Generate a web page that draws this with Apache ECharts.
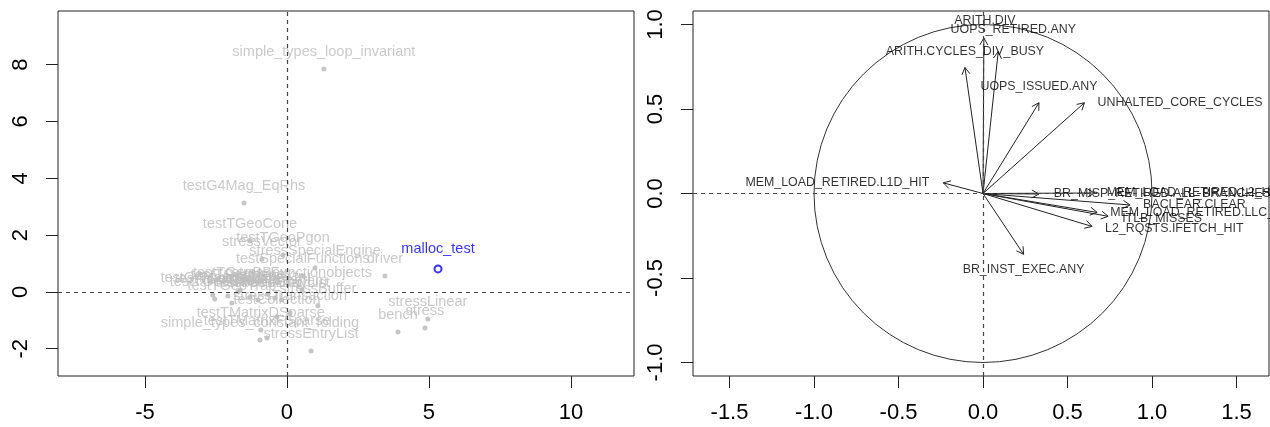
<!DOCTYPE html>
<html>
<head>
<meta charset="utf-8">
<script src="https://cdn.jsdelivr.net/npm/echarts@6/dist/echarts.min.js"></script>
<style>
html,body{margin:0;padding:0;background:#fff;}
#chart{width:1270px;height:427px;}
</style>
</head>
<body>
<div id="chart"></div>
<script>
// ---------- Left panel: individuals ----------
const indNames = [
  'simple_types_loop_invariant','testG4Mag_EqRhs','driver','stressLinear','stress','bench',
  'stressEntryList','testTGeoCone','testTGeoPgon','stressVector','testSpecialFunctions',
  'stressSpecialEngine','testG4Navigator','testTGeoBBox','stressFunctionobjects','testTGeoTrap',
  'stressArrayList','stressBuffer','stressTransaction','testCollection','testTMatrixDSparse',
  'simple_types_constant_folding','testTMatrixFSparse','testTGeoSphere','testTGeoTorus',
  'testTGeoXtru','testTGeoPara','testTGeoEltu','stressHistogram','testTGeoHype'
];
const indX = [1.30,-1.51,3.45,4.96,4.86,3.91,0.85,-1.30,-0.14,-0.88,0.56,0.99,-2.61,-1.65,0.53,-1.94,
  -0.18,1.09,0.11,-0.35,-0.92,-0.95,-0.70,-2.08,-1.30,-0.67,-2.54,-1.02,-0.42,-1.73];
const indY = [7.85,3.13,0.56,-0.95,-1.27,-1.41,-2.08,1.80,1.30,1.16,0.56,0.85,-0.11,0.07,0.07,-0.39,
  -0.28,-0.49,-0.74,-0.88,-1.34,-1.69,-1.62,-0.14,-0.18,-0.07,-0.25,-0.28,-0.21,0.00];
const hiName = ['malloc_test'];
const hiX = [5.32];
const hiY = [0.81];
const leftXTicks = [-5,0,5,10];
const leftYTicks = [-2,0,2,4,6,8];

// ---------- Right panel: variables ----------
const varNames = [
  'ARITH.DIV','UOPS_RETIRED.ANY','ARITH.CYCLES_DIV_BUSY','UOPS_ISSUED.ANY','UNHALTED_CORE_CYCLES',
  'MEM_LOAD_RETIRED.L1D_HIT','BR_MISP_RETIRED.ALL_BRANCHES','MEM_LOAD_RETIRED.L2_HIT','BACLEAR.CLEAR',
  'MEM_LOAD_RETIRED.LLC_HIT','ITLB_MISSES','L2_RQSTS.IFETCH_HIT','BR_INST_EXEC.ANY'
];
const varX = [0.005,0.09,-0.107,0.331,0.60,-0.235,0.33,0.66,0.87,0.675,0.74,0.645,0.24];
const varY = [0.92,0.84,0.746,0.537,0.537,0.063,-0.003,0.003,-0.068,-0.112,-0.135,-0.195,-0.36];
const rightXTicks = [-1.5,-1.0,-0.5,0.0,0.5,1.0,1.5];
const rightYTicks = [-1.0,-0.5,0.0,0.5,1.0];

// label placement (layout only)
const varLabelLayout = {
  'ARITH.DIV': {position:'top', distance:10, offset:[1,-1]},
  'UOPS_RETIRED.ANY': {position:'top', distance:10, offset:[15,-6]},
  'ARITH.CYCLES_DIV_BUSY': {position:'top', distance:10},
  'UOPS_ISSUED.ANY': {position:'top', distance:10},
  'UNHALTED_CORE_CYCLES': {position:'right', distance:13},
  'MEM_LOAD_RETIRED.L1D_HIT': {position:'left', distance:14},
  'BR_MISP_RETIRED.ALL_BRANCHES': {position:'right', distance:15},
  'MEM_LOAD_RETIRED.L2_HIT': {position:'right', distance:12},
  'BACLEAR.CLEAR': {position:'right', distance:13},
  'MEM_LOAD_RETIRED.LLC_HIT': {position:'right', distance:13},
  'ITLB_MISSES': {position:'right', distance:14, offset:[0,2]},
  'L2_RQSTS.IFETCH_HIT': {position:'right', distance:13, offset:[0,2]},
  'BR_INST_EXEC.ANY': {position:'bottom', distance:9}
};

const FONT = 'Liberation Sans, Arial, Helvetica, sans-serif';
const AX = '#222';

function valueAxis(gridIndex, min, max, ticks, fmt, isY) {
  return {
    type:'value', gridIndex, min, max,
    axisLine:{show:false, onZero:false},
    splitLine:{show:false},
    axisTick:{show:true, length:12, customValues:ticks, lineStyle:{color:AX, width:1}},
    axisLabel: Object.assign({
      show:true, customValues:ticks, fontSize:22, fontFamily:FONT, color:'#000', margin:26,
      formatter: fmt
    }, isY ? {rotate:90, align:'center', verticalAlign:'bottom'} : {})
  };
}

const dashLine = {
  silent:true, symbol:['none','none'], label:{show:false},
  lineStyle:{type:[4,4], color:'#444', width:1.2},
  emphasis:{disabled:true},
  data:[{xAxis:0},{yAxis:0}]
};

const fmtInt = v => String(v);
const fmt1 = v => v.toFixed(1);

const option = {
  animation:false,
  backgroundColor:'#fff',
  grid:[
    {left:58, top:11, width:576, height:365, show:true, borderColor:'#222', borderWidth:1, backgroundColor:'transparent'},
    {left:693, top:11, width:576, height:365, show:true, borderColor:'#222', borderWidth:1, backgroundColor:'transparent'}
  ],
  xAxis:[
    valueAxis(0, -8.06, 12.22, leftXTicks, fmtInt, false),
    valueAxis(1, -1.716, 1.692, rightXTicks, fmt1, false)
  ],
  yAxis:[
    valueAxis(0, -2.96, 9.89, leftYTicks, fmtInt, true),
    valueAxis(1, -1.08, 1.08, rightYTicks, fmt1, true)
  ],
  series:[
    {
      type:'scatter', xAxisIndex:0, yAxisIndex:0,
      symbol:'circle', symbolSize:5,
      itemStyle:{color:'#b8b8b8'},
      label:{show:true, position:'top', distance:7, formatter:p=>p.name, color:'#bdbdbd', fontSize:14.5, fontFamily:FONT},
      data: indNames.map((n,i)=>({name:n, value:[indX[i], indY[i]]})),
      markLine: dashLine,
      z:3
    },
    {
      type:'scatter', xAxisIndex:0, yAxisIndex:0,
      symbol:'emptyCircle', symbolSize:7,
      itemStyle:{color:'#0000ff', borderColor:'#0000ff', borderWidth:1},
      label:{show:true, position:'top', distance:8, formatter:p=>p.name, color:'#0000ff', fontSize:14.5, fontFamily:FONT},
      data: hiName.map((n,i)=>({name:n, value:[hiX[i], hiY[i]]})),
      z:4
    },
    {
      type:'custom', xAxisIndex:1, yAxisIndex:1,
      silent:true,
      data:[[0,0]],
      renderItem:function(params, api){
        const c = api.coord([0,0]);
        const r = api.size([1,1])[0];
        return {type:'circle', shape:{cx:c[0], cy:c[1], r:r}, style:{fill:'none', stroke:'#333', lineWidth:1}};
      },
      markLine: dashLine,
      z:2
    },
    {
      type:'custom', xAxisIndex:1, yAxisIndex:1,
      silent:true,
      encode:{x:0, y:1},
      data: varNames.map((n,i)=>[varX[i], varY[i]]),
      renderItem:function(params, api){
        const o = api.coord([0,0]);
        const t = api.coord([api.value(0), api.value(1)]);
        const ang = Math.atan2(t[1]-o[1], t[0]-o[0]);
        const L = 8, a = Math.PI/6;
        const p1 = [t[0]-L*Math.cos(ang-a), t[1]-L*Math.sin(ang-a)];
        const p2 = [t[0]-L*Math.cos(ang+a), t[1]-L*Math.sin(ang+a)];
        return {type:'group', children:[
          {type:'line', shape:{x1:o[0], y1:o[1], x2:t[0], y2:t[1]}, style:{stroke:'#222', lineWidth:1}},
          {type:'polyline', shape:{points:[p1, t, p2]}, style:{stroke:'#222', fill:null, lineWidth:1}}
        ]};
      },
      z:3
    },
    {
      type:'scatter', xAxisIndex:1, yAxisIndex:1,
      symbol:'circle', symbolSize:0.1,
      itemStyle:{color:'rgba(0,0,0,0)'},
      silent:true,
      data: varNames.map((n,i)=>({
        name:n, value:[varX[i], varY[i]],
        label: Object.assign({show:true, formatter:n, color:'#000', fontSize:12.4, fontFamily:FONT}, varLabelLayout[n] || {position:'top'})
      })),
      z:4
    }
  ]
};

const chart = echarts.init(document.getElementById('chart'), null, {renderer:'canvas'});
chart.setOption(option);
</script>
</body>
</html>
